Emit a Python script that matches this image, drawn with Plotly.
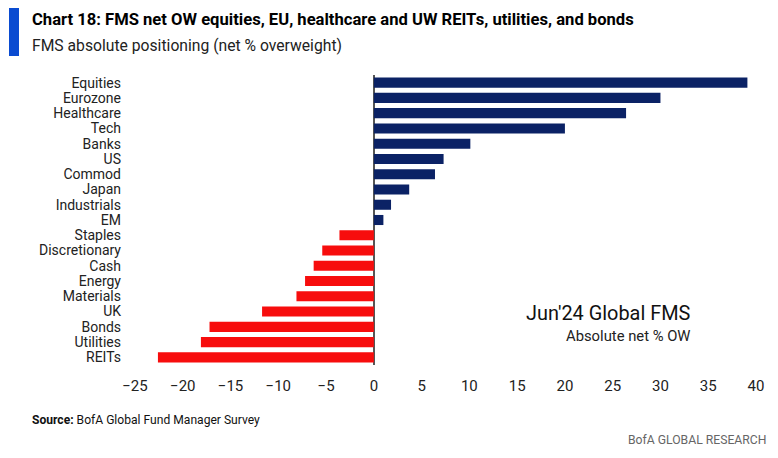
import plotly.graph_objects as go

categories = ["Equities", "Eurozone", "Healthcare", "Tech", "Banks", "US", "Commod", "Japan",
              "Industrials", "EM", "Staples", "Discretionary", "Cash", "Energy", "Materials",
              "UK", "Bonds", "Utilities", "REITs"]
values = [39.1, 30.0, 26.4, 20.0, 10.1, 7.3, 6.4, 3.7, 1.8, 1.0,
          -3.6, -5.4, -6.3, -7.2, -8.1, -11.7, -17.2, -18.1, -22.6]
x_ticks = [-25, -20, -15, -10, -5, 0, 5, 10, 15, 20, 25, 30, 35, 40]

NAVY = "#0b2265"
RED = "#f70d0d"
colors = [NAVY if v >= 0 else RED for v in values]

FONT2 = "Roboto, Open Sans, sans-serif"

fig = go.Figure(go.Bar(
    x=values, y=categories, orientation="h",
    marker=dict(color=colors, line=dict(width=0)),
    width=0.66, hoverinfo="skip",
))

fig.update_layout(
    width=778, height=458,
    margin=dict(l=135, r=22, t=75, b=93),
    paper_bgcolor="white", plot_bgcolor="white",
    showlegend=False,
    font=dict(family=FONT2, color="#222222", size=14),
    xaxis=dict(range=[-25.0, 40.0], tickvals=x_ticks, showgrid=False,
               zeroline=True, zerolinecolor="#555555", zerolinewidth=1.5,
               showline=False, ticks="", tickfont=dict(size=15),
               ticklabelstandoff=10, automargin=False),
    yaxis=dict(showgrid=False, zeroline=False, ticks="",
               tickmode="array", tickvals=categories,
               tickfont=dict(size=14), ticklabelstandoff=13, range=[18.5, -0.5],
               automargin=False),
)

# left blue accent bar
fig.add_shape(type="rect", xref="paper", yref="paper",
              x0=-0.2029, x1=-0.1868, y0=1.0655, y1=1.231,
              fillcolor="#0a4bd1", line=dict(width=0), layer="above")

fig.add_annotation(xref="paper", yref="paper", x=-0.169, y=1.19, xanchor="left", yanchor="middle",
                   text="<b>Chart 18: FMS net OW equities, EU, healthcare and UW REITs, utilities, and bonds</b>",
                   showarrow=False, font=dict(size=16.6, color="#000000", family=FONT2))
fig.add_annotation(xref="paper", yref="paper", x=-0.169, y=1.10, xanchor="left", yanchor="middle",
                   text="FMS absolute positioning (net % overweight)",
                   showarrow=False, font=dict(size=15.7, color="#222222", family=FONT2))

fig.add_annotation(xref="paper", yref="paper", x=0.8986, y=0.179, xanchor="right", yanchor="middle",
                   text="Jun'24 Global FMS", showarrow=False,
                   font=dict(size=19.9, color="#111111", family=FONT2))
fig.add_annotation(xref="paper", yref="paper", x=0.8986, y=0.10, xanchor="right", yanchor="middle",
                   text="Absolute net % OW", showarrow=False,
                   font=dict(size=14.8, color="#222222", family=FONT2))

fig.add_annotation(xref="paper", yref="paper", x=-0.169, y=-0.19, xanchor="left", yanchor="middle",
                   text="<b>Source:</b> BofA Global Fund Manager Survey", showarrow=False,
                   font=dict(size=12.1, color="#111111", family=FONT2))
fig.add_annotation(xref="paper", yref="paper", x=1.019, y=-0.2586, xanchor="right", yanchor="middle",
                   text="BofA GLOBAL RESEARCH", showarrow=False,
                   font=dict(size=12.2, color="#666666", family=FONT2))

fig.write_html("out.html", config={"displayModeBar": False, "staticPlot": True},
               post_script="document.body.style.margin='0';")
